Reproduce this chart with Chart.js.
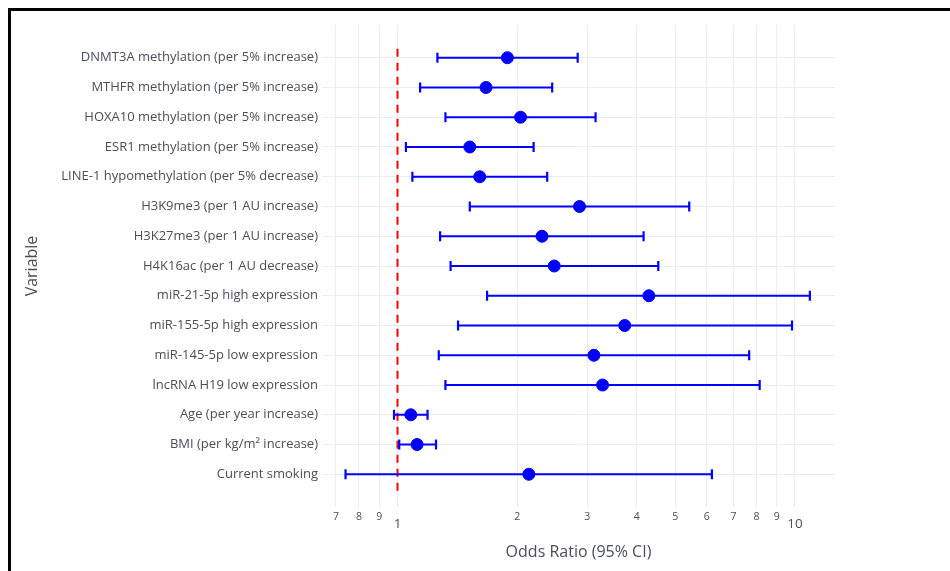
<!DOCTYPE html>
<html>
<head>
<meta charset="utf-8">
<script src="https://cdn.jsdelivr.net/npm/chart.js@4"></script>
<style>
  html, body { margin: 0; padding: 0; background: #fff; }
  #wrap { position: relative; width: 950px; height: 571px; }
  #frame {
    position: absolute; left: 8px; top: 8px; right: 0; bottom: 0;
    border-top: 3px solid #000; border-left: 3px solid #000;
    pointer-events: none;
  }
</style>
</head>
<body>
<div id="wrap">
  <canvas id="myChart" width="950" height="571"></canvas>
  <div id="frame"></div>
</div>
<script>
const variables = [
  'DNMT3A methylation (per 5% increase)',
  'MTHFR methylation (per 5% increase)',
  'HOXA10 methylation (per 5% increase)',
  'ESR1 methylation (per 5% increase)',
  'LINE-1 hypomethylation (per 5% decrease)',
  'H3K9me3 (per 1 AU increase)',
  'H3K27me3 (per 1 AU increase)',
  'H4K16ac (per 1 AU decrease)',
  'miR-21-5p high expression',
  'miR-155-5p high expression',
  'miR-145-5p low expression',
  'lncRNA H19 low expression',
  'Age (per year increase)',
  'BMI (per kg/m² increase)',
  'Current smoking'
];
const oddsRatio = [1.89, 1.67, 2.04, 1.52, 1.61, 2.87, 2.31, 2.48, 4.29, 3.73, 3.12, 3.28, 1.08, 1.12, 2.14];
const ciLower   = [1.26, 1.14, 1.32, 1.05, 1.09, 1.52, 1.28, 1.36, 1.68, 1.42, 1.27, 1.32, 0.98, 1.01, 0.74];
const ciUpper   = [2.84, 2.45, 3.15, 2.20, 2.38, 5.42, 4.16, 4.53, 10.9, 9.83, 7.67, 8.15, 1.19, 1.25, 6.18];
const xTicks = [0.7, 0.8, 0.9, 1, 2, 3, 4, 5, 6, 7, 8, 9, 10];
const majorTicks = [1, 10];
const nullValue = 1;

const textColor = '#4a4e59';
const gridColor = '#e9edf5';
const fontFamily = '"Open Sans", "DejaVu Sans", sans-serif';

// OR points
const points = oddsRatio.map((v, i) => ({ x: v, y: i }));

// CI segments: lower -> upper, broken by a gap after each row
const ciSegments = [];
ciLower.forEach((lo, i) => {
  ciSegments.push({ x: lo, y: i });
  ciSegments.push({ x: ciUpper[i], y: i });
  ciSegments.push({ x: null, y: null });
});

const refLine = [
  { x: nullValue, y: -0.3 },
  { x: nullValue, y: variables.length - 0.45 }
];

const ctx = document.getElementById('myChart').getContext('2d');

new Chart(ctx, {
  type: 'scatter',
  data: {
    datasets: [
      {
        data: points,
        backgroundColor: '#0000ff',
        borderColor: '#0000ff',
        pointRadius: 6,
        pointHoverRadius: 6,
        showLine: false
      },
      {
        data: ciSegments,
        showLine: true,
        spanGaps: false,
        borderColor: '#0000ff',
        borderWidth: 2.2,
        pointStyle: 'line',
        rotation: 90,
        pointRadius: 5,
        pointBorderWidth: 2.2,
        pointBorderColor: '#0000ff'
      },
      {
        data: refLine,
        showLine: true,
        borderColor: '#ff0000',
        borderWidth: 2,
        borderDash: [8, 6],
        pointRadius: 0
      }
    ]
  },
  options: {
    responsive: false,
    animation: false,
    layout: { padding: { top: 25, right: 115, left: 0, bottom: 0 } },
    plugins: {
      legend: { display: false },
      tooltip: { enabled: false }
    },
    scales: {
      x: {
        type: 'logarithmic',
        bounds: 'data',
        min: 0.6457,
        max: 12.61,
        afterBuildTicks: (scale) => {
          scale.ticks = xTicks.map((v) => ({ value: v }));
        },
        afterFit: (scale) => {
          scale.height = 64;
          scale.paddingLeft = 0;
          scale.paddingRight = 0;
        },
        grid: { color: gridColor, drawTicks: false },
        border: { display: false },
        ticks: {
          autoSkip: false,
          maxRotation: 0,
          padding: 3.5,
          color: textColor,
          callback: (value) => {
            if (value < 1) return String(Math.round(value * 10));
            return String(value);
          },
          font: (c) => {
            const major = c.tick && majorTicks.includes(c.tick.value);
            return major
              ? { family: fontFamily, size: 13.5, lineHeight: 2 }
              : { family: fontFamily, size: 10.5, lineHeight: 1.15 };
          }
        },
        title: {
          display: true,
          text: 'Odds Ratio (95% CI)',
          color: textColor,
          font: { family: fontFamily, size: 16 },
          padding: { top: 0, bottom: 8.5 }
        }
      },
      y: {
        type: 'linear',
        reverse: true,
        min: -1.1,
        max: 15.1,
        afterBuildTicks: (scale) => {
          scale.ticks = variables.map((_, i) => ({ value: i }));
        },
        afterFit: (scale) => {
          scale.width = 322;
          scale.paddingTop = 0;
          scale.paddingBottom = 0;
        },
        grid: { color: gridColor, drawTicks: false },
        border: { display: false },
        ticks: {
          autoSkip: false,
          padding: 4,
          color: textColor,
          font: { family: fontFamily, size: 13 },
          callback: (value) => variables[value] ?? ''
        },
        title: {
          display: true,
          text: 'Variable',
          color: textColor,
          font: { family: fontFamily, size: 16 },
          padding: { top: 22.5, bottom: 0 }
        }
      }
    }
  }
});
</script>
</body>
</html>
